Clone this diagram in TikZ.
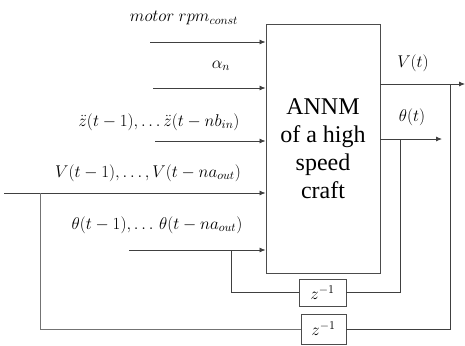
\RequirePackage{fix-cm}
\documentclass[tikz,border=0pt]{standalone}
\usepackage{fontspec}
\setmainfont{Liberation Serif}
\usetikzlibrary{arrows.meta}

\tikzset{
  sig/.style={draw=black!75, line width=0.8pt},
  sigin/.style={sig, -{Latex[length=6pt,width=5pt]}},
  fback/.style={draw=black!55, line width=0.7pt},
  block/.style={draw=black!70, line width=0.9pt, inner sep=0pt},
  lab/.style={font=\fontsize{17}{20}\selectfont},
}

\begin{document}
\begin{tikzpicture}[x=1pt,y=-1pt]
\useasboundingbox (0,0) rectangle (465,345);

% Model block
\node[block, minimum width=114pt, minimum height=249pt, align=center,
      font=\rmfamily\fontsize{24}{28}\selectfont] (annm) at (323,148.5)
      {ANNM\\of a high\\speed\\craft};

% Delay blocks
\node[block, minimum width=47pt, minimum height=27pt, lab] (dth) at (322.5,292.5) {$z^{-1}$};
\node[block, minimum width=45pt, minimum height=30pt, lab] (dv) at (323.5,329) {$z^{-1}$};

% Inputs
\coordinate (rpm) at (150,42);
\coordinate (alpha) at (153,88);
\coordinate (zdd) at (155,141);
\coordinate (vin) at (4,193);
\coordinate (thin) at (129,250);
\foreach \c in {rpm,alpha,zdd,vin,thin} {
    \draw[sigin] (\c) -- (\c -| annm.west);
}
\node[lab] (lrpm) at (184,18) {$motor\ rpm_{const}$};
\node[lab] (lalpha) at (221,66) {$\alpha_n$};
\node[lab] (lzdd) at (159,122) {$\ddot{z}(t-1),\ldots\ddot{z}(t-nb_{in})$};
\node[lab] (lvin) at (148,173) {$V(t-1),\ldots,V(t-na_{out})$};
\node[lab] (lthin) at (157,225) {$\theta(t-1),\ldots\,\theta(t-na_{out})$};

% Outputs
\coordinate (vout) at (465,84);
\coordinate (thout) at (442,139);
\draw[sigin] (annm.east |- vout) -- (vout);
\draw[sigin] (annm.east |- thout) -- (thout);
\node[lab] (lvout) at (413,63) {$V(t)$};
\node[lab] (lthout) at (412,117) {$\theta(t)$};

% Feedback loops
\coordinate (tapth) at (400,139);
\coordinate (backth) at (231,250);
\draw[sig] (tapth) |- (dth.east);
\draw[sig] (dth.west) -| (backth);
\coordinate (tapv) at (450,84);
\coordinate (backv) at (40,193);
\draw[sig] (tapv) |- (dv.east);
\draw[fback] (dv.west) -| (backv);

\end{tikzpicture}
\end{document}
